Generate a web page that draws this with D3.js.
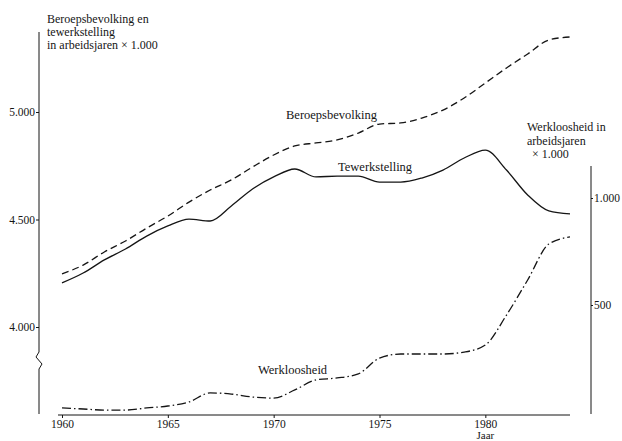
<!DOCTYPE html>
<html>
<head>
<meta charset="utf-8">
<script src="https://cdn.jsdelivr.net/npm/d3@7"></script>
<style>
  body { margin: 0; background: #fff; }
  svg { display: block; }
  text { font-family: "Liberation Serif", "DejaVu Serif", serif; fill: #151515; }
</style>
</head>
<body>
<svg id="chart" width="622" height="441"></svg>
<script>
// data (x 1.000 arbeidsjaren)
var years = [1960, 1961, 1962, 1963, 1964, 1965, 1966, 1967, 1968, 1969, 1970, 1971,
             1972, 1973, 1974, 1975, 1976, 1977, 1978, 1979, 1980, 1981, 1982, 1983, 1984];
var beroepsbevolking = [4247, 4288, 4349, 4400, 4460, 4516, 4581, 4637, 4684, 4744, 4800, 4842,
                        4856, 4870, 4902, 4944, 4949, 4972, 5009, 5065, 5135, 5205, 5270, 5335, 5349];
var tewerkstelling = [4205, 4251, 4312, 4363, 4423, 4470, 4502, 4493, 4563, 4642, 4698, 4735,
                      4698, 4702, 4702, 4674, 4674, 4693, 4730, 4786, 4823, 4730, 4614, 4540, 4526];
var werkloosheid = [19, 14, 9, 9, 19, 28, 47, 89, 84, 70, 65, 103,
                    150, 159, 178, 252, 271, 271, 271, 280, 313, 453, 617, 785, 818];
var leftTicks = [4000, 4500, 5000];
var rightTicks = [500, 1000];
var xTicks = [1960, 1965, 1970, 1975, 1980];

var svg = d3.select("#chart");
var ink = "#151515";

var x = d3.scaleLinear().domain([1960, 1984]).range([62, 570]);
var yL = d3.scaleLinear().domain([4000, 5000]).range([327, 112]);
var yR = d3.scaleLinear().domain([0, 1000]).range([412, 198]);

var dutch = function(d) { return d3.format(",")(d).replace(",", "."); };

// left axis: line with a break near the bottom
var axL = 39;
svg.append("path")
    .attr("d", "M" + axL + ",32 V352 l-3,5 l6,7 l-3,5 V414")
    .attr("fill", "none").attr("stroke", ink).attr("stroke-width", 1);

var gl = svg.append("g")
    .attr("transform", "translate(" + axL + ",0)")
    .call(d3.axisLeft(yL).tickValues(leftTicks).tickSize(3).tickPadding(1).tickFormat(dutch))
    .attr("font-family", null);
gl.select(".domain").remove();
gl.selectAll("line").attr("stroke", ink);
gl.selectAll("text").style("font-size", "11.5px");

// right axis
var axR = 591;
svg.append("line")
    .attr("x1", axR).attr("x2", axR).attr("y1", 166).attr("y2", 414)
    .attr("stroke", ink).attr("stroke-width", 1);
var gr = svg.append("g")
    .attr("transform", "translate(" + axR + ",0)")
    .call(d3.axisRight(yR).tickValues(rightTicks).tickSize(2).tickPadding(1).tickFormat(dutch))
    .attr("font-family", null);
gr.select(".domain").remove();
gr.selectAll("line").attr("stroke", ink);
gr.selectAll("text").style("font-size", "11.5px");

// x axis
var base = 415;
svg.append("line")
    .attr("x1", 58).attr("x2", 570).attr("y1", base).attr("y2", base)
    .attr("stroke", ink).attr("stroke-width", 1);
var gx = svg.append("g")
    .attr("transform", "translate(0," + base + ")")
    .call(d3.axisBottom(x).tickValues(xTicks).tickSize(3).tickPadding(2).tickFormat(d3.format("d")))
    .attr("font-family", null);
gx.select(".domain").remove();
gx.selectAll("line").attr("stroke", ink);
gx.selectAll("text").style("font-size", "11.5px");

svg.append("text").attr("x", x(1980)).attr("y", 439)
    .attr("text-anchor", "middle").style("font-size", "11px").text("Jaar");

// series
var lineL = d3.line()
    .x(function(d, i) { return x(years[i]); })
    .y(function(d) { return yL(d); })
    .curve(d3.curveMonotoneX);
var lineR = d3.line()
    .x(function(d, i) { return x(years[i]); })
    .y(function(d) { return yR(d); })
    .curve(d3.curveMonotoneX);

svg.append("path").datum(beroepsbevolking)
    .attr("d", lineL).attr("fill", "none").attr("stroke", ink)
    .attr("stroke-width", 1.3).attr("stroke-dasharray", "7,4");
svg.append("path").datum(tewerkstelling)
    .attr("d", lineL).attr("fill", "none").attr("stroke", ink)
    .attr("stroke-width", 1.3);
svg.append("path").datum(werkloosheid)
    .attr("d", lineR).attr("fill", "none").attr("stroke", ink)
    .attr("stroke-width", 1.3).attr("stroke-dasharray", "9,3,1.5,3");

// series labels
svg.append("text").attr("x", 286).attr("y", 119).style("font-size", "12.5px").text("Beroepsbevolking");
svg.append("text").attr("x", 338).attr("y", 171).style("font-size", "12.5px").text("Tewerkstelling");
svg.append("text").attr("x", 258).attr("y", 374).style("font-size", "12.5px").text("Werkloosheid");

// axis titles
var tl = svg.append("text").attr("x", 47).attr("y", 23).style("font-size", "12px");
tl.append("tspan").attr("x", 47).text("Beroepsbevolking en");
tl.append("tspan").attr("x", 47).attr("dy", 13).text("tewerkstelling");
tl.append("tspan").attr("x", 47).attr("dy", 13).text("in arbeidsjaren \u00d7 1.000");

var tr = svg.append("text").attr("x", 527).attr("y", 131).style("font-size", "12px");
tr.append("tspan").attr("x", 527).text("Werkloosheid in");
tr.append("tspan").attr("x", 527).attr("dy", 13.5).text("arbeidsjaren");
tr.append("tspan").attr("x", 532).attr("dy", 13.5).text("\u00d7 1.000");
</script>
</body>
</html>
